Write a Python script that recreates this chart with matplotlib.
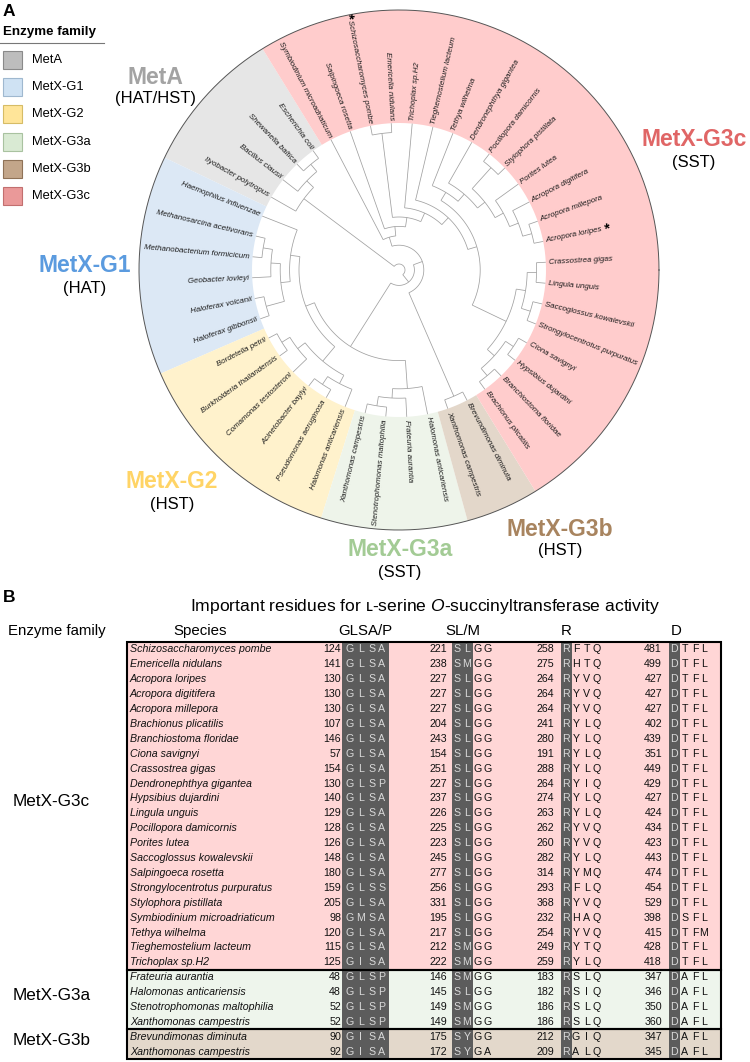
import numpy as np
import matplotlib
matplotlib.use("Agg")
import matplotlib.pyplot as plt
from matplotlib.patches import Polygon, Rectangle

plt.rcParams['font.family'] = ['Liberation Sans', 'DejaVu Sans']
plt.rcParams['mathtext.fontset'] = 'custom'
plt.rcParams['mathtext.rm'] = 'Liberation Sans'
plt.rcParams['mathtext.it'] = 'Liberation Sans:italic'

# ------------------------------------------------------------------ data
group_names = ["MetA", "MetX-G1", "MetX-G2", "MetX-G3a", "MetX-G3b", "MetX-G3c"]
group_subs = ["(HAT/HST)", "(HAT)", "(HST)", "(SST)", "(HST)", "(SST)"]
legend_colors = ["#BDBDBD", "#CFE2F3", "#FFE599", "#D9EAD3", "#C3A68A", "#EA9999"]
legend_edges = ["#8A8A8A", "#9FB8CF", "#D6BC66", "#A9C2A0", "#8F7257", "#C26F6F"]
sector_colors = ["#E6E6E6", "#DCE8F5", "#FFF2CC", "#EEF4EA", "#E3D7CA", "#FFCCCC"]
label_colors = ["#A3A3A3", "#5B9BDF", "#FFD466", "#A3CB95", "#A8845F", "#E06666"]

# tips in clockwise order, starting at Ilyobacter
tip_names = [
    "Ilyobacter polytropus", "Bacillus clausii", "Shewanella baltica", "Escherichia coli",
    "Symbiodinium microadriaticum", "Salpingoeca rosetta", "Schizosaccharomyces pombe",
    "Emericella nidulans", "Trichoplax sp.H2", "Tieghemostelium lacteum", "Tethya wilhelma",
    "Dendronephthya gigantea", "Pocillopora damicornis", "Stylophora pistillata",
    "Porites lutea", "Acropora digitifera", "Acropora millepora", "Acropora loripes",
    "Crassostrea gigas", "Lingula unguis", "Saccoglossus kowalevskii",
    "Strongylocentrotus purpuratus", "Ciona savignyi", "Hypsibius dujardini",
    "Branchiostoma floridae", "Brachionus plicatilis",
    "Brevundimonas diminuta", "Xanthomonas campestris",
    "Halomonas anticariensis", "Frateuria aurantia", "Stenotrophomonas maltophilia",
    "Xanthomonas campestris",
    "Halomonas anticariensis", "Pseudomonas aeruginosa", "Acinetobacter baylyi",
    "Comamonas testosteroni", "Burkholderia thailandensis", "Bordetella petrii",
    "Haloferax gibbonsii", "Haloferax volcanii", "Geobacter lovleyi",
    "Methanobacterium formicicum", "Methanosarcina acetivorans", "Haemophilus influenzae",
]
tip_groups = (["MetA"] * 4 + ["MetX-G3c"] * 22 + ["MetX-G3b"] * 2 + ["MetX-G3a"] * 4
              + ["MetX-G2"] * 6 + ["MetX-G1"] * 6)
starred_tips = [6, 17]

# tree topology (tip indices)
metA_clade = (0, (1, (2, 3)))
corals = (11, ((12, 13), (14, (15, (16, 17)))))
bilateria = (((18, 19), (20, 21)), ((22, 23), (24, 25)))
g3c_clade = (4, (5, ((6, 7), (8, (9, ((10, corals), bilateria))))))
g3b_clade = (26, 27)
g3a_clade = (28, (29, (30, 31)))
g2_clade = ((32, (33, 34)), (35, (36, 37)))
g1_clade = ((38, 39), (40, (41, 42)))
tree = (metA_clade, ((g3c_clade, g3b_clade), (g3a_clade, (g2_clade, (g1_clade, 43)))))

# table (panel B)
tbl_species = [
    "Schizosaccharomyces pombe", "Emericella nidulans", "Acropora loripes",
    "Acropora digitifera", "Acropora millepora", "Brachionus plicatilis",
    "Branchiostoma floridae", "Ciona savignyi", "Crassostrea gigas",
    "Dendronephthya gigantea", "Hypsibius dujardini", "Lingula unguis",
    "Pocillopora damicornis", "Porites lutea", "Saccoglossus kowalevskii",
    "Salpingoeca rosetta", "Strongylocentrotus purpuratus", "Stylophora pistillata",
    "Symbiodinium microadriaticum", "Tethya wilhelma", "Tieghemostelium lacteum",
    "Trichoplax sp.H2",
    "Frateuria aurantia", "Halomonas anticariensis", "Stenotrophomonas maltophilia",
    "Xanthomonas campestris",
    "Brevundimonas diminuta", "Xanthomonas campestris",
]
tbl_family = ["MetX-G3c"] * 22 + ["MetX-G3a"] * 4 + ["MetX-G3b"] * 2
pos1 = [124, 141, 130, 130, 130, 107, 146, 57, 154, 130, 140, 129, 128, 126, 148, 180,
        159, 205, 98, 120, 115, 125, 48, 48, 52, 52, 90, 92]
res1 = ["GLSA", "GLSA", "GLSA", "GLSA", "GLSA", "GLSA", "GLSA", "GLSA", "GLSA", "GLSP",
        "GLSA", "GLSA", "GLSA", "GLSA", "GLSA", "GLSA", "GLSS", "GLSA", "GMSA", "GLSA",
        "GLSA", "GISA", "GLSP", "GLSP", "GLSP", "GLSP", "GISA", "GISA"]
pos2 = [221, 238, 227, 227, 227, 204, 243, 154, 251, 227, 237, 226, 225, 223, 245, 277,
        256, 331, 195, 217, 212, 222, 146, 145, 149, 149, 175, 172]
res2 = ["SLGG", "SMGG", "SLGG", "SLGG", "SLGG", "SLGG", "SLGG", "SLGG", "SLGG", "SLGG",
        "SLGG", "SLGG", "SLGG", "SLGG", "SLGG", "SLGG", "SLGG", "SLGG", "SLGG", "SLGG",
        "SMGG", "SMGG", "SMGG", "SLGG", "SMGG", "SMGG", "SYGG", "SYGA"]
pos3 = [258, 275, 264, 264, 264, 241, 280, 191, 288, 264, 274, 263, 262, 260, 282, 314,
        293, 368, 232, 254, 249, 259, 183, 182, 186, 186, 212, 209]
res3 = ["RFTQ", "RHTQ", "RYVQ", "RYVQ", "RYVQ", "RYLQ", "RYLQ", "RYLQ", "RYLQ", "RYIQ",
        "RYLQ", "RYLQ", "RYVQ", "RYVQ", "RYLQ", "RYMQ", "RFLQ", "RYVQ", "RHAQ", "RYVQ",
        "RYTQ", "RYLQ", "RSLQ", "RSIQ", "RSLQ", "RSLQ", "RGIQ", "RALQ"]
pos4 = [481, 499, 427, 427, 427, 402, 439, 351, 449, 429, 427, 424, 434, 423, 443, 474,
        454, 529, 398, 415, 428, 418, 347, 346, 350, 360, 347, 345]
res4 = ["DTFL", "DTFL", "DTFL", "DTFL", "DTFL", "DTFL", "DTFL", "DTFL", "DTFL", "DTFL",
        "DTFL", "DTFL", "DTFL", "DTFL", "DTFL", "DTFL", "DTFL", "DTFL", "DSFL", "DTFM",
        "DTFL", "DTFL", "DAFL", "DAFL", "DAFL", "DAFL", "DAFL", "DAFL"]
motif_headers = ["GLSA/P", "SL/M", "R", "D"]
motif_highlight = [4, 2, 1, 1]
tbl_row_colors = {"MetX-G3c": "#FFD6D6", "MetX-G3a": "#EEF5EC", "MetX-G3b": "#E3D8CB"}

# ------------------------------------------------------------------ figure
W, H = 750, 1062
fig = plt.figure(figsize=(W / 100, H / 100), dpi=100)
ax = fig.add_axes([0, 0, 1, 1])
ax.set_xlim(0, W)
ax.set_ylim(H, 0)
ax.axis("off")

# ---------------- panel A : circular tree
CX, CY = 399, 270
R_OUT = 260
R_IN = 147
R_TIP = 147
R_LAB = 150
n_tips = len(tip_names)
dtheta = 360.0 / n_tips
theta0 = 150.3
tip_theta = [theta0 - i * dtheta for i in range(n_tips)]


def pxy(r, a):
    t = np.deg2rad(a)
    return CX + r * np.cos(t), CY - r * np.sin(t)


# sectors
for gi, g in enumerate(group_names):
    idx = [i for i, tg in enumerate(tip_groups) if tg == g]
    a_hi = tip_theta[min(idx)] + dtheta / 2
    a_lo = tip_theta[max(idx)] - dtheta / 2
    aa = np.linspace(a_hi, a_lo, 80)
    outer = [pxy(R_OUT, a) for a in aa]
    inner = [pxy(R_IN, a) for a in aa[::-1]]
    ax.add_patch(Polygon(outer + inner, closed=True, facecolor=sector_colors[gi],
                         edgecolor="none", zorder=1))
aa = np.linspace(0, 360, 400)
ox, oy = zip(*[pxy(R_OUT, a) for a in aa])
ax.plot(ox, oy, color="#555555", lw=0.7, zorder=2)

TREE_COLOR = "#A0A0A0"
TREE_LW = 0.55


def height(node):
    if isinstance(node, int):
        return 0
    return 1 + max(height(c) for c in node)


H_ROOT = height(tree)
STEP = (R_TIP - 6) / H_ROOT


def draw(node):
    if isinstance(node, int):
        return tip_theta[node], R_TIP
    kids = [draw(c) for c in node]
    r = R_TIP - STEP * height(node)
    angs = [k[0] for k in kids]
    a0, a1 = min(angs), max(angs)
    arc = np.linspace(a0, a1, 60)
    xs, ys = zip(*[pxy(r, a) for a in arc])
    ax.plot(xs, ys, color=TREE_COLOR, lw=TREE_LW, zorder=3, solid_capstyle="butt")
    for a, rc in kids:
        x0, y0 = pxy(r, a)
        x1, y1 = pxy(rc, a)
        ax.plot([x0, x1], [y0, y1], color=TREE_COLOR, lw=TREE_LW, zorder=3,
                solid_capstyle="butt")
    return (a0 + a1) / 2, r


draw(tree)

renderer = fig.canvas.get_renderer()


def text_width(s, **kw):
    t = ax.text(0, 0, s, **kw)
    w = t.get_window_extent(renderer).width
    t.remove()
    return w


TIP_FS = 5.7
for i, name in enumerate(tip_names):
    a = ((tip_theta[i] + 180) % 360) - 180
    x, y = pxy(R_LAB, a)
    if -90 < a < 90:
        rot, ha = a, "left"
    else:
        rot, ha = a - 180, "right"
    ax.text(x, y, name, fontsize=TIP_FS, style="italic", color="#1A1A1A", rotation=rot,
            rotation_mode="anchor", ha=ha, va="center", zorder=4)
    if i in starred_tips:
        w = text_width(name, fontsize=TIP_FS, style="italic")
        xs, ys = pxy(R_LAB + w + 4.5, a)
        ax.text(xs, ys, "*", fontsize=10, fontweight="bold", color="black", rotation=rot,
                rotation_mode="anchor", ha="center", va="center", zorder=4)

# big group labels
big_pos = {"MetA": (155, 77), "MetX-G1": (85, 266), "MetX-G2": (172, 482),
           "MetX-G3a": (400, 550), "MetX-G3b": (560, 529), "MetX-G3c": (694, 140)}
for gi, g in enumerate(group_names):
    x, y = big_pos[g]
    ax.text(x, y, g, fontsize=16.5, fontweight="bold", color=label_colors[gi],
            ha="center", va="center")
    ax.text(x, y + 22, group_subs[gi], fontsize=12, color="black", ha="center", va="center")

# panel label and legend
ax.text(3, 12, "A", fontsize=12.5, fontweight="bold", ha="left", va="center")
ax.text(3, 32, "Enzyme family", fontsize=9.6, fontweight="bold", ha="left", va="center")
ax.plot([0, 104], [43, 43], color="#777777", lw=0.8)
for gi, g in enumerate(group_names):
    yc = 60 + gi * 27.2
    ax.add_patch(Rectangle((3, yc - 9), 19, 18, facecolor=legend_colors[gi],
                           edgecolor=legend_edges[gi], lw=0.8))
    ax.text(32, yc, g, fontsize=9.3, ha="left", va="center")

# ---------------- panel B : table
ax.text(3, 597, "B", fontsize=12.5, fontweight="bold", ha="left", va="center")
ax.text(425, 607, r"Important residues for ʟ-serine $\mathit{O}$-succinyltransferase activity",
        fontsize=12.6, ha="center", va="center")

T_LEFT, T_RIGHT = 127, 721
T_TOP = 642
ROW_H = 14.9
n_rows = len(tbl_species)
T_BOT = T_TOP + n_rows * ROW_H
HDR_Y = 631
ax.text(8, HDR_Y, "Enzyme family", fontsize=10.8, ha="left", va="center")
ax.text(200, HDR_Y, "Species", fontsize=10.8, ha="center", va="center")

num_right = [341, 447, 554, 662]
dark_spans = [(342, 389), (452, 473), (561, 572), (669, 680)]
letter_x = [[350, 361, 372, 382], [457, 467, 478, 488], [566, 576, 587, 597],
            [674, 685, 695, 704]]
hdr_x = [365, 463, 566, 676]
for k in range(4):
    ax.text(hdr_x[k], HDR_Y, motif_headers[k], fontsize=10.8, ha="center", va="center")

# group backgrounds
families = []
for f in tbl_family:
    if f not in families:
        families.append(f)
group_bounds = []
for f in families:
    rows = [i for i, ff in enumerate(tbl_family) if ff == f]
    y0 = T_TOP + min(rows) * ROW_H
    y1 = T_TOP + (max(rows) + 1) * ROW_H
    group_bounds.append((f, y0, y1))
    ax.add_patch(Rectangle((T_LEFT, y0), T_RIGHT - T_LEFT, y1 - y0,
                           facecolor=tbl_row_colors[f], edgecolor="none", zorder=1))

DARK = "#5C5C5C"
for (x0, x1) in dark_spans:
    ax.add_patch(Rectangle((x0, T_TOP), x1 - x0, T_BOT - T_TOP, facecolor=DARK,
                           edgecolor="none", zorder=2))

for f, y0, y1 in group_bounds:
    ax.add_patch(Rectangle((T_LEFT, y0), T_RIGHT - T_LEFT, y1 - y0, facecolor="none",
                           edgecolor="black", lw=1.5, zorder=5))
    ax.text(13, (y0 + y1) / 2 - 4, f, fontsize=12.3, ha="left", va="center")

TFS = 7.7
positions = [pos1, pos2, pos3, pos4]
residues = [res1, res2, res3, res4]
for i in range(n_rows):
    yc = T_TOP + (i + 0.5) * ROW_H
    ax.text(130, yc, tbl_species[i], fontsize=TFS, style="italic", color="#111111",
            ha="left", va="center", zorder=6)
    for k in range(4):
        ax.text(num_right[k], yc, str(positions[k][i]), fontsize=TFS, color="#111111",
                ha="right", va="center", zorder=6)
        for j, ch in enumerate(residues[k][i]):
            col = "#D9D9D9" if j < motif_highlight[k] else "#111111"
            ax.text(letter_x[k][j], yc, ch, fontsize=TFS, color=col, ha="center",
                    va="center", zorder=6)

fig.savefig("out.png", dpi=100)
